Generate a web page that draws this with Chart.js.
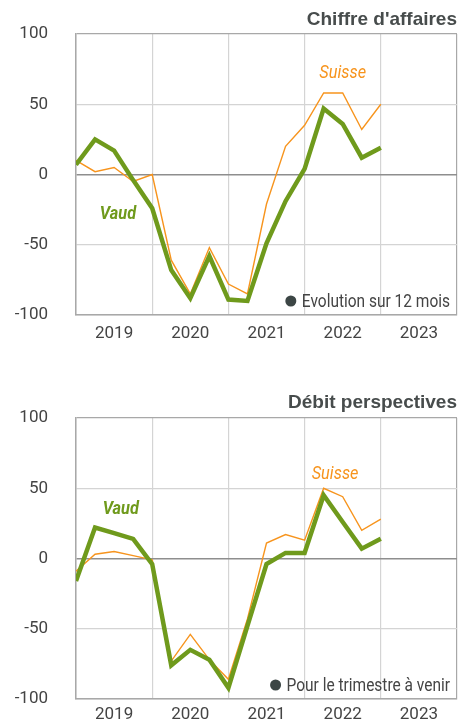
<!DOCTYPE html>
<html lang="fr">
<head>
  <meta charset="UTF-8" />
  <title>Chiffre d'affaires / Débit perspectives</title>
  <script src="https://cdn.jsdelivr.net/npm/chart.js"></script>
  <style>
    body {
      margin: 0;
      background: #fff;
      width: 473px;
      height: 722px;
      overflow: hidden;
      position: relative;
    }
    .box {
      position: absolute;
      left: 0;
      width: 473px;
      height: 360px;
    }
    #box1 { top: 0; }
    #box2 { top: 384px; }
  </style>
</head>
<body>
  <div class="box" id="box1"><canvas id="chart1" width="473" height="360"></canvas></div>
  <div class="box" id="box2"><canvas id="chart2" width="473" height="360"></canvas></div>

  <script>
    // trimestres T1 2019 .. T1 2023 (index 0..16), axe de 2019 à fin 2023
    const years = ["2019", "2020", "2021", "2022", "2023"];
    const yTicks = [-100, -50, 0, 50, 100];

    // Chiffre d'affaires, évolution sur 12 mois
    const caVaud   = [7, 25, 17, -4, -24, -68, -88, -58, -89, -90, -49, -19, 4, 47, 36, 12, 19];
    const caSuisse = [10, 2, 5, -5, 0, -61, -85, -52, -78, -85, -21, 20, 35, 58, 58, 32, 50];

    // Débit perspectives, pour le trimestre à venir
    const dpVaud   = [-16, 22, 18, 14, -4, -76, -65, -72, -92, -48, -4, 4, 4, 45, 26, 7, 14];
    const dpSuisse = [-9, 3, 5, 2, -1, -73, -54, -72, -86, -43, 11, 17, 13, 50, 44, 20, 28];

    const GREEN = "#6f9a1c";
    const ORANGE = "#f7941d";
    const TEXT = "#444";
    const FONT = "Roboto, 'Liberation Sans', sans-serif";
    const SQUEEZE = 0.86; // texte condensé

    const toPoints = arr => arr.map((v, i) => ({ x: i, y: v }));

    // texte condensé horizontalement autour de (x, y)
    function narrowText(ctx, text, x, y) {
      ctx.save();
      ctx.translate(x, y);
      ctx.scale(SQUEEZE, 1);
      ctx.fillText(text, 0, 0);
      ctx.restore();
    }

    const decor = {
      id: "decor",
      afterDraw(chart, args, opts) {
        const ctx = chart.ctx;
        const area = chart.chartArea;
        const xs = chart.scales.x, ys = chart.scales.y;
        ctx.save();
        // titre
        ctx.fillStyle = "#474c4c";
        ctx.font = "bold 19px 'Liberation Sans', Arial, sans-serif";
        ctx.textAlign = "right";
        ctx.textBaseline = "alphabetic";
        ctx.fillText(opts.title, area.right, area.top - opts.titleGap);
        // étiquettes des séries
        ctx.textAlign = "center";
        ctx.textBaseline = "middle";
        ctx.font = "italic 19px " + FONT;
        ctx.fillStyle = ORANGE;
        narrowText(ctx, "Suisse", xs.getPixelForValue(opts.suisseAt[0]), ys.getPixelForValue(opts.suisseAt[1]));
        ctx.font = "italic bold 19px " + FONT;
        ctx.fillStyle = GREEN;
        narrowText(ctx, "Vaud", xs.getPixelForValue(opts.vaudAt[0]), ys.getPixelForValue(opts.vaudAt[1]));
        // note en bas à droite
        ctx.font = "18px " + FONT;
        ctx.textAlign = "right";
        ctx.textBaseline = "alphabetic";
        ctx.fillStyle = TEXT;
        const tx = area.right - 7, ty = area.bottom - 8;
        narrowText(ctx, opts.note, tx, ty);
        const w = ctx.measureText(opts.note).width * SQUEEZE;
        ctx.fillStyle = "#3c4645";
        ctx.beginPath();
        ctx.arc(tx - w - 11, ty - 6, 5.5, 0, Math.PI * 2);
        ctx.fill();
        ctx.restore();
      }
    };

    function makeChart(id, vaud, suisse, xPad, decorOpts) {
      return new Chart(document.getElementById(id), {
        type: "line",
        data: {
          datasets: [
            {
              label: "Vaud",
              data: toPoints(vaud),
              borderColor: GREEN,
              borderWidth: 4.5,
              pointRadius: 0,
              tension: 0
            },
            {
              label: "Suisse",
              data: toPoints(suisse),
              borderColor: ORANGE,
              borderWidth: 1.4,
              pointRadius: 0,
              tension: 0
            }
          ]
        },
        options: {
          responsive: false,
          animation: false,
          events: [],
          layout: { padding: { top: 34, right: 16, left: 0, bottom: 0 } },
          plugins: {
            legend: { display: false },
            tooltip: { enabled: false },
            decor: decorOpts
          },
          scales: {
            x: {
              type: "linear",
              min: 0,
              max: 20,
              afterBuildTicks: axis => {
                axis.ticks = [];
                for (let v = 0; v <= 20; v += 2) axis.ticks.push({ value: v });
              },
              afterFit: axis => { axis.height = 45; },
              ticks: {
                autoSkip: false,
                maxRotation: 0,
                padding: xPad,
                color: TEXT,
                font: { family: FONT, size: 17 },
                callback: v => (v % 4 === 2 ? years[(v - 2) / 4] : "")
              },
              grid: {
                drawTicks: false,
                lineWidth: 1.2,
                color: c => {
                  const v = c.tick.value;
                  if (v === 20) return "#a8a8a8";
                  return v % 4 === 0 ? "#d4d4d4" : "rgba(0,0,0,0)";
                }
              },
              border: { color: "#a8a8a8", width: 1.5 }
            },
            y: {
              min: -100,
              max: 100,
              afterBuildTicks: axis => { axis.ticks = yTicks.map(v => ({ value: v })); },
              afterFit: axis => {
                axis.width = 76;
                // la marge des libellés ne doit pas pousser la zone de tracé
                axis.paddingTop = 10;
                axis.paddingBottom = 10;
              },
              ticks: {
                padding: 28,
                color: TEXT,
                font: { family: FONT, size: 17 }
              },
              grid: {
                drawTicks: false,
                lineWidth: c => (c.tick.value === 0 ? 1.6 : 1.2),
                color: c => {
                  const v = c.tick.value;
                  if (v === 0) return "#8e8e8e";
                  if (v === 100) return "#a8a8a8";
                  return "#d4d4d4";
                }
              },
              border: { color: "#a8a8a8", width: 1.5 }
            }
          }
        },
        plugins: [decor]
      });
    }

    makeChart("chart1", caVaud, caSuisse, 9, {
      title: "Chiffre d'affaires",
      titleGap: 9,
      note: "Evolution sur 12 mois",
      suisseAt: [14, 72],
      vaudAt: [2.2, -28.5]
    });

    makeChart("chart2", dpVaud, dpSuisse, 6, {
      title: "Débit perspectives",
      titleGap: 10,
      note: "Pour le trimestre à venir",
      suisseAt: [13.6, 60],
      vaudAt: [2.35, 35]
    });
  </script>
</body>
</html>
